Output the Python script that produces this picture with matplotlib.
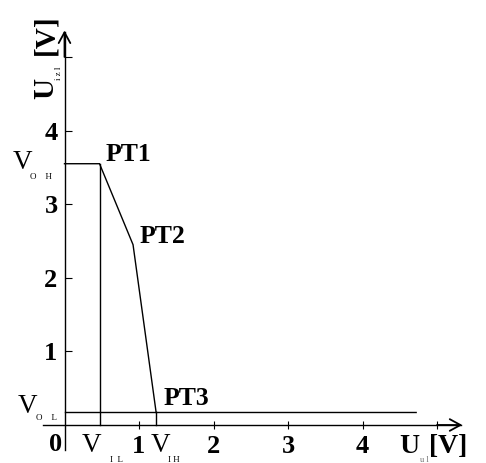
import matplotlib
matplotlib.use("Agg")
import matplotlib.pyplot as plt

# Voltage transfer characteristic (piecewise-linear) of an inverter
v_il = 0.47      # input low threshold (PT1)
v_ih = 1.23      # input high threshold (PT3)
v_oh = 3.55      # output high level
v_ol = 0.17      # output low level
pt2_x, pt2_y = 0.92, 2.45
x_end = 4.72

vtc_x = [0.0, v_il, pt2_x, v_ih, x_end]
vtc_y = [v_oh, v_oh, pt2_y, v_ol, v_ol]

x_ticks = [1, 2, 3, 4, 5]
x_tick_labels = ["1", "2", "3", "4", ""]
y_ticks = [1, 2, 3, 4, 5]
y_tick_labels = ["1", "2", "3", "4", ""]

W, H = 486, 463
DPI = 100
PX = 72.0 / DPI   # points per pixel

SERIF = ["Liberation Serif", "DejaVu Serif"]

fig = plt.figure(figsize=(W / DPI, H / DPI), dpi=DPI)
ax = fig.add_axes([0, 0, 1, 1])
ax.set_xlim(-64.5 / 74.5, (W - 64.5) / 74.5)
ax.set_ylim((425 - H) / 73.6, 425 / 73.6)

# axes drawn through the origin
for side in ("top", "right"):
    ax.spines[side].set_visible(False)
ax.spines["left"].set_position(("data", 0))
ax.spines["bottom"].set_position(("data", 0))
ax.spines["left"].set_bounds(-0.34, 5.34)
ax.spines["bottom"].set_bounds(-0.29, 5.32)
for side in ("left", "bottom"):
    ax.spines[side].set_linewidth(1.0)

arrow_kw = dict(arrowstyle="->,head_length=0.55,head_width=0.3", lw=1.3,
                color="black", mutation_scale=14, shrinkA=0, shrinkB=0)
ax.annotate("", xy=(5.34, 0), xytext=(5.0, 0), arrowprops=arrow_kw)
ax.annotate("", xy=(0, 5.36), xytext=(0, 5.0), arrowprops=arrow_kw)

ax.set_xticks(x_ticks)
ax.set_xticklabels(x_tick_labels)
ax.set_yticks(y_ticks)
ax.set_yticklabels(y_tick_labels)
ax.tick_params(axis="x", direction="inout", length=6, width=0.8, pad=4,
               labelsize=19)
ax.tick_params(axis="y", direction="in", length=5, width=0.8, pad=5,
               labelsize=19)
for lab in ax.get_xticklabels() + ax.get_yticklabels():
    lab.set_fontfamily(SERIF)
    lab.set_fontweight("bold")

# transfer curve and guide lines
lw = 1.0
ax.plot(vtc_x, vtc_y, color="black", lw=lw, solid_joinstyle="miter")
ax.plot([v_il, v_il], [0, v_oh], color="black", lw=lw)
ax.plot([v_ih, v_ih], [0, v_ol], color="black", lw=lw)
ax.plot([0, v_ih], [v_ol, v_ol], color="black", lw=lw)

# "0" at the origin
ax.annotate("0", xy=(0, 0), xytext=(-16 * PX, -26 * PX), textcoords="offset points",
            fontsize=19, fontweight="bold", family=SERIF, ha="left", va="baseline")

# point labels
bold = dict(fontsize=18.5, fontweight="bold", family=SERIF, ha="left",
            va="baseline", textcoords="offset points")
ax.annotate("PT1", xy=(v_il, v_oh), xytext=(6 * PX, 3 * PX), **bold)
ax.annotate("PT2", xy=(pt2_x, pt2_y), xytext=(7 * PX, 2 * PX), **bold)
ax.annotate("PT3", xy=(v_ih, v_ol), xytext=(7 * PX, 7 * PX), **bold)


def level_label(xy, v_off, sub, sub_off):
    """Large 'V' with a tiny spaced subscript, offsets in pixels."""
    ax.annotate("V", xy=xy, xytext=(v_off[0] * PX, v_off[1] * PX),
                textcoords="offset points", fontsize=19.5, family=SERIF,
                ha="left", va="baseline")
    ax.annotate(sub, xy=xy, xytext=(sub_off[0] * PX, sub_off[1] * PX),
                textcoords="offset points", fontsize=6.5, family=SERIF,
                ha="left", va="baseline")


level_label((0, v_oh), (-52, -5), "O    H", (-34, -15))
level_label((0, v_ol), (-47, -1), "O    L", (-28, -8))
level_label((v_il, 0), (-18, -27), "I  L", (10.5, -37))
level_label((v_ih, 0), (-5, -27), "I H", (11.5, -37))


# axis titles
def fx(px):
    return px / W


def fy(py):
    return 1 - py / H


big = dict(fontweight="bold", family=SERIF, ha="left", va="baseline")
fig.text(fx(399), fy(453), "U", fontsize=20, **big)
fig.text(fx(420), fy(462), "u l", fontsize=6, family=SERIF, ha="left",
         va="baseline", color="0.45")
fig.text(fx(429), fy(453), "[V]", fontsize=20, **big)

fig.text(fx(53), fy(99), "U", fontsize=21, rotation=90, rotation_mode="anchor",
         **big)
fig.text(fx(61), fy(80), "i z l", fontsize=6.5, family=SERIF, rotation=90,
         rotation_mode="anchor", ha="left", va="baseline")
fig.text(fx(53), fy(55), "[V]", fontsize=21, rotation=90, rotation_mode="anchor",
         **big)

fig.savefig("out.png", dpi=DPI)
